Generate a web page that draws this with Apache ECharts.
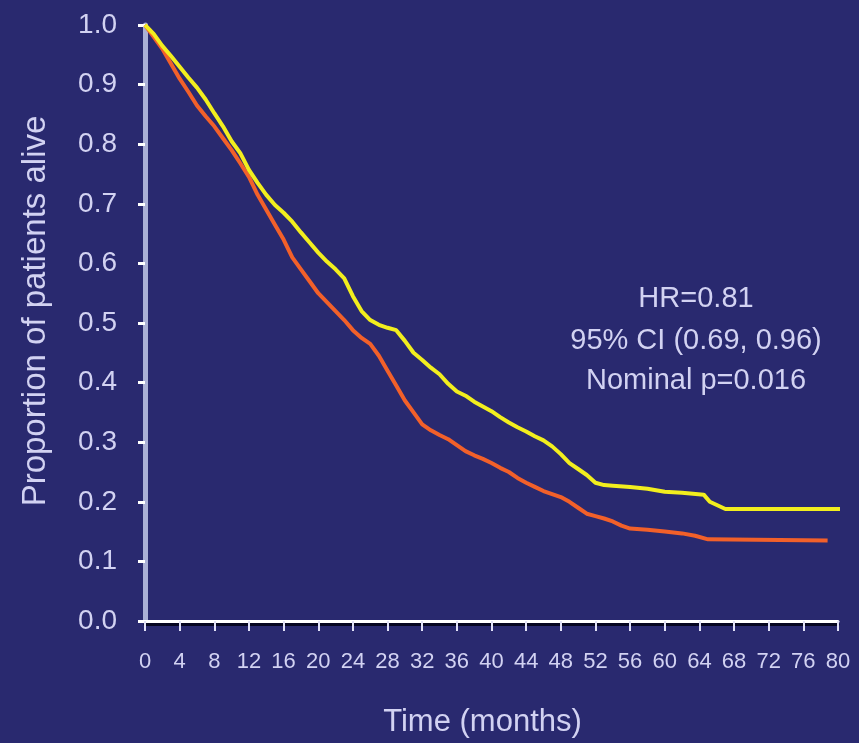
<!DOCTYPE html>
<html>
<head>
<meta charset="utf-8">
<script src="https://cdn.jsdelivr.net/npm/echarts@6/dist/echarts.min.js"></script>
<style>
  html, body { margin: 0; padding: 0; background: #29296f; }
  #chart { width: 859px; height: 743px; }
</style>
</head>
<body>
<div id="chart"></div>
<script>
// Kaplan-Meier survival estimates: month and proportion alive
const upperArmMonths = [0,1,2,3,4,5,6,7,8,9,10,11,12,13,14,15,16,17,18,19,20,21,22,23,24,25,26,27,28,29,30,31,32,33,34,35,36,37,38,39,40,41,42,43,44,45,46,47,48,49,50,51,52,53,54,56,58,60,62,64.5,65.2,67,80.5];
const upperArmSurvival = [1.0,0.985,0.965,0.948,0.93,0.912,0.895,0.875,0.852,0.83,0.805,0.785,0.757,0.735,0.715,0.698,0.685,0.67,0.652,0.635,0.618,0.603,0.59,0.575,0.545,0.52,0.505,0.497,0.492,0.488,0.47,0.45,0.438,0.425,0.414,0.398,0.385,0.378,0.368,0.36,0.352,0.342,0.333,0.325,0.318,0.31,0.303,0.293,0.28,0.265,0.255,0.245,0.232,0.228,0.227,0.225,0.222,0.217,0.215,0.212,0.2,0.188,0.188];

const lowerArmMonths = [0,1,2,3,4,5,6,7,8,9,10,11,12,13,14,15,16,17,18,19,20,21,22,23,24,25,26,27,28,29,30,31,32,33,34,35,36,37,38,39,40,41,42,43,44,45,46,47,48,49,50,51,52,53,54,55,56,58,60,62,63.5,65,78.8];
const lowerArmSurvival = [1.0,0.98,0.96,0.935,0.91,0.888,0.865,0.847,0.83,0.81,0.79,0.768,0.745,0.715,0.69,0.665,0.64,0.61,0.59,0.57,0.55,0.535,0.52,0.505,0.488,0.475,0.465,0.445,0.42,0.395,0.37,0.35,0.33,0.32,0.312,0.305,0.295,0.285,0.278,0.272,0.265,0.257,0.25,0.24,0.232,0.225,0.218,0.213,0.208,0.2,0.19,0.18,0.176,0.172,0.167,0.16,0.155,0.153,0.15,0.147,0.143,0.137,0.135];

const annotationLines = ['HR=0.81', '95% CI (0.69, 0.96)', 'Nominal p=0.016'];
const xTitle = 'Time (months)';
const yTitle = 'Proportion of patients alive';

const pair = (xs, ys) => xs.map((x, i) => [x, ys[i]]);
const textColor = '#d2d2f2';
const fontFamily = '"Liberation Sans", Arial, sans-serif';

const chart = echarts.init(document.getElementById('chart'));
chart.setOption({
  backgroundColor: '#29296f',
  animation: false,
  grid: { left: 145, right: 21, top: 25, bottom: 117 },
  xAxis: {
    type: 'value', min: 0, max: 80, interval: 4,
    name: xTitle, nameLocation: 'middle', nameGap: 86,
    nameTextStyle: { color: textColor, fontSize: 31, fontFamily, padding: [0, 18, 0, 0] },
    axisLine: { show: true, lineStyle: { color: '#ffffff', width: 3,
      shadowColor: 'rgba(0,0,20,0.85)', shadowOffsetY: 3 } },
    axisTick: { show: true, length: 10, lineStyle: { color: '#e2e2f8', width: 2 } },
    axisLabel: { color: textColor, fontSize: 22, fontFamily, margin: 30 },
    splitLine: { show: false }
  },
  yAxis: {
    type: 'value', min: 0, max: 1, interval: 0.1,
    name: yTitle, nameLocation: 'middle', nameGap: 93,
    nameTextStyle: { color: textColor, fontSize: 33, fontFamily, padding: [0, 0, 0, 24] },
    axisLine: { show: true, lineStyle: { color: '#aab0d6', width: 5 } },
    axisTick: { show: true, length: 7, lineStyle: { color: '#ffffff', width: 3 } },
    axisLabel: { color: textColor, fontSize: 28, fontFamily, margin: 28,
      formatter: v => v.toFixed(1) },
    splitLine: { show: false }
  },
  series: [
    {
      type: 'line', showSymbol: false, clip: false, z: 3,
      data: pair(lowerArmMonths, lowerArmSurvival),
      lineStyle: { color: '#f2602a', width: 4 }
    },
    {
      type: 'line', showSymbol: false, clip: false, z: 4,
      data: pair(upperArmMonths, upperArmSurvival),
      lineStyle: { color: '#f2ee1e', width: 4 }
    }
  ],
  graphic: annotationLines.map((t, i) => ({
    type: 'text', x: 696, y: [299, 341, 381][i],
    style: { text: t, fill: textColor, font: '29px ' + fontFamily,
             align: 'center', verticalAlign: 'middle' }
  }))
});
</script>
</body>
</html>
